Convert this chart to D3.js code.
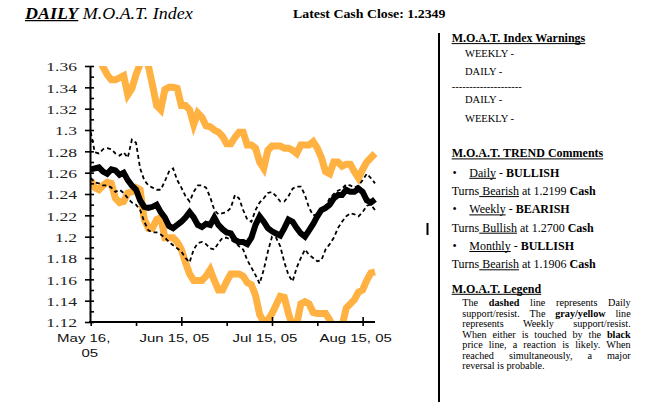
<!DOCTYPE html>
<html><head><meta charset="utf-8">
<script src="https://cdn.jsdelivr.net/npm/d3@7"></script>
<style>body{margin:0;background:#fff}svg{display:block}</style>
</head><body>
<script>
// ---- data (one value per trading day, May 16 2005 .. late Aug 2005) ----
const priceLine = [1.263,1.264,1.265,1.261,1.259,1.263,1.262,1.258,1.260,1.253,1.248,1.244,1.234,1.228,1.227,1.228,1.230,1.223,1.218,1.210,
  1.208,1.211,1.214,1.218,1.223,1.218,1.211,1.209,1.212,1.211,1.218,1.211,1.207,1.204,1.203,1.197,1.195,1.195,1.193,1.199,
  1.211,1.219,1.214,1.208,1.205,1.203,1.201,1.208,1.216,1.214,1.208,1.203,1.200,1.206,1.212,1.219,1.225,1.227,1.230,1.236,
  1.239,1.239,1.244,1.242,1.242,1.245,1.242,1.234,1.232,1.235];
const weeklyResist = [1.375,1.370,1.366,1.359,1.352,1.347,1.347,1.349,1.351,1.333,1.339,1.352,1.362,1.370,1.360,1.342,1.323,1.319,1.338,1.340,
  1.340,1.339,1.323,1.323,1.319,1.305,1.316,1.312,1.304,1.303,1.300,1.298,1.294,1.287,1.287,1.293,1.298,1.298,1.286,1.286,
  1.283,1.270,1.264,1.281,1.285,1.285,1.285,1.283,1.283,1.281,1.278,1.286,1.286,1.286,1.289,1.283,1.274,1.261,1.259,1.270,
  1.270,1.266,1.268,1.268,1.261,1.255,1.263,1.270,1.274,1.278];
const weeklySupport = [1.253,1.246,1.244,1.248,1.251,1.250,1.236,1.232,1.233,1.241,1.242,1.246,1.244,1.216,1.208,1.208,1.216,1.218,1.199,1.199,
  1.199,1.195,1.188,1.176,1.165,1.159,1.159,1.159,1.163,1.169,1.159,1.150,1.150,1.158,1.165,1.165,1.165,1.163,1.157,1.155,
  1.145,1.127,1.120,1.122,1.128,1.136,1.144,1.143,1.128,1.116,1.118,1.137,1.139,1.137,1.129,1.128,1.128,1.128,1.122,1.113,
  1.113,1.116,1.133,1.137,1.141,1.148,1.150,1.159,1.166,1.167];
const dailyResist = [1.298,1.279,1.278,1.282,1.283,1.282,1.278,1.276,1.279,1.274,1.291,1.288,1.264,1.253,1.248,1.246,1.244,1.244,1.252,1.261,
  1.264,1.253,1.246,1.238,1.233,1.242,1.248,1.248,1.246,1.237,1.225,1.221,1.222,1.223,1.227,1.239,1.236,1.225,1.216,1.214,
  1.225,1.232,1.236,1.241,1.242,1.238,1.233,1.233,1.238,1.245,1.247,1.247,1.239,1.227,1.220,1.221,1.225,1.228,1.236,1.240,
  1.243,1.245,1.249,1.248,1.246,1.248,1.253,1.259,1.255,1.250];
const dailySupport = [1.255,1.251,1.250,1.248,1.248,1.246,1.242,1.244,1.241,1.236,1.232,1.230,1.225,1.214,1.206,1.204,1.204,1.202,1.199,1.195,
  1.192,1.189,1.186,1.180,1.176,1.188,1.194,1.195,1.193,1.189,1.188,1.194,1.199,1.199,1.197,1.195,1.191,1.188,1.178,1.171,
  1.164,1.156,1.169,1.186,1.200,1.199,1.191,1.176,1.164,1.158,1.171,1.180,1.188,1.183,1.180,1.177,1.178,1.188,1.193,1.199,
  1.208,1.214,1.219,1.222,1.221,1.219,1.223,1.229,1.230,1.225];
const yLabels = [1.12,1.14,1.16,1.18,1.2,1.22,1.24,1.26,1.28,1.3,1.32,1.34,1.36];
const yMinor = [1.13,1.15,1.17,1.19,1.21,1.23,1.25,1.27,1.29,1.31,1.33,1.35];
const xLabels = ["May 16, 05","Jun 15, 05","Jul 15, 05","Aug 15, 05"];
const xLabelIdx = [0,22,44,66];
const xMinorIdx = [11,33,55];

const W=653,H=402;
const svg=d3.select("body").append("svg").attr("width",W).attr("height",H);
svg.append("rect").attr("width",W).attr("height",H).attr("fill","#fff");
const SERIF="'Liberation Serif','Times New Roman',serif";
const SANS="'Liberation Sans',Arial,sans-serif";
const ORANGE="#FFB142";

const x=d3.scaleLinear().domain([0,priceLine.length-1]).range([90.7,375]);
const y=d3.scaleLinear().domain([1.12,1.36]).range([322,66]);

// clip
svg.append("defs").append("clipPath").attr("id","plot").append("rect")
  .attr("x",90).attr("y",66).attr("width",290).attr("height",255.5);
const plot=svg.append("g").attr("clip-path","url(#plot)");
const line=d3.line().x((d,i)=>x(i)).y(d=>y(d));
[weeklyResist,weeklySupport].forEach(s=>plot.append("path").attr("d",line(s))
  .attr("fill","none").attr("stroke",ORANGE).attr("stroke-width",7).attr("stroke-linejoin","miter"));
[dailyResist,dailySupport].forEach(s=>plot.append("path").attr("d",line(s))
  .attr("fill","none").attr("stroke","#000").attr("stroke-width",1.8).attr("stroke-dasharray","4,3"));
plot.append("path").attr("d",line(priceLine)).attr("fill","none").attr("stroke","#000").attr("stroke-width",6);

// y axis
const yA=svg.append("g").attr("transform","translate(90,0)")
  .call(d3.axisLeft(y).tickValues(yLabels).tickSize(5).tickSizeOuter(0).tickFormat(d3.format("")));
yA.attr("font-family",SERIF);
yA.select(".domain").attr("stroke-width",2);
yA.selectAll(".tick line").attr("stroke-width",1.6);
yA.selectAll(".tick text").attr("x",0).attr("dy",null).attr("y",4.7)
  .attr("transform","translate(-13,0) scale(1.35,1)")
  .attr("font-family",SERIF).attr("font-size",13).attr("fill","#222");
svg.append("g").attr("transform","translate(90,0)")
  .call(d3.axisRight(y).tickValues(yLabels.concat(yMinor)).tickSize(4).tickSizeOuter(0).tickFormat(""))
  .call(g=>{g.select(".domain").remove();g.selectAll(".tick line").attr("stroke-width",1.6);});

// x axis
const xA=svg.append("g").attr("transform","translate(0,322)")
  .call(d3.axisBottom(x).tickValues(xLabelIdx.concat(xMinorIdx)).tickSize(4).tickSizeOuter(0).tickFormat(""));
xA.select(".domain").attr("stroke-width",2).attr("d","M89,0H375");
xA.selectAll(".tick line").attr("stroke-width",1.6);
svg.append("g").attr("transform","translate(0,322)")
  .call(d3.axisTop(x).tickValues(xLabelIdx.slice(1)).tickSize(5).tickSizeOuter(0).tickFormat(""))
  .call(g=>{g.select(".domain").remove();g.selectAll(".tick line").attr("stroke-width",1.6);});
xLabels.forEach((lab,k)=>{
  const cx=x(xLabelIdx[k])-7;
  const lines = k===0 ? ["May 16,","05"] : [lab];
  lines.forEach((t,j)=>{
    svg.append("text").attr("transform",`translate(${cx + (k===0&&j===1?6:0)},${341.5+j*15}) scale(1.36,1)`)
      .attr("text-anchor","middle").attr("font-family",SANS).attr("font-size",11).attr("fill","#111").text(t);
  });
});

// small marker
svg.append("rect").attr("x",426.5).attr("y",223).attr("width",2).attr("height",12).attr("fill","#000");
// divider
svg.append("rect").attr("x",438).attr("y",33).attr("width",2).attr("height",H-33).attr("fill","#000");

// helpers
function segs(x0,yb,parts,size,sx){
  sx=sx||1;
  const g=svg.append("g").attr("transform",`translate(${x0},${yb}) scale(${sx},1)`);
  let cx=0;
  parts.forEach(p=>{
    const t=g.append("text").attr("x",cx).attr("y",0).attr("xml:space","preserve")
      .attr("font-family",SERIF).attr("font-size",size).attr("fill","#000")
      .attr("font-weight",p.b?"bold":"normal").attr("font-style",p.i?"italic":"normal").text(p.t);
    const w=t.node().getComputedTextLength();
    if(p.u) g.append("line").attr("x1",cx).attr("x2",cx+w).attr("y1",1.6).attr("y2",1.6)
      .attr("stroke","#000").attr("stroke-width",p.uw||1);
    cx+=w;
  });
}
// title
segs(25,19,[{t:"DAILY",b:1,i:1,u:1,uw:1.4},{t:" M.O.A.T. Index",i:1}],17,1.057);
segs(293,18,[{t:"Latest Cash Close: 1.2349",b:1}],12.5,1.11);

// right panel
segs(451.7,42,[{t:"M.O.A.T. Index Warnings",b:1,u:1}],12);
segs(465,56.7,[{t:"WEEKLY -"}],10.5);
segs(465,75,[{t:"DAILY -"}],10.5);
segs(451.7,90,[{t:"--------------------"}],10.5);
segs(465,103,[{t:"DAILY -"}],10.5);
segs(465,121.5,[{t:"WEEKLY -"}],10.5);

segs(451.7,157.3,[{t:"M.O.A.T. TREND Comments",b:1,u:1}],12);
const trend=[["Daily","BULLISH","Bearish","1.2199"],["Weekly","BEARISH","Bullish","1.2700"],["Monthly","BULLISH","Bearish","1.1906"]];
trend.forEach((r,k)=>{
  const yb=176.7+k*36.6;
  segs(452.5,yb,[{t:"•"}],12);
  segs(469.3,yb,[{t:r[0],u:1},{t:" - "},{t:r[1],b:1}],12);
  segs(451.7,yb+18.3,[{t:"Turns"},{t:" "+r[2],u:1},{t:" at "+r[3]+" "},{t:"Cash",b:1}],12);
});

segs(451.7,292.7,[{t:"M.O.A.T. Legend",b:1,u:1}],12);
const legendLines=[
  [["The"],["dashed",1],["line"],["represents"],["Daily"]],
  [["support/resist."],["The"],["gray/yellow",1],["line"]],
  [["represents"],["Weekly"],["support/resist."]],
  [["When"],["either"],["is"],["touched"],["by"],["the"],["black",1]],
  [["price"],["line,"],["a"],["reaction"],["is"],["likely."],["When"]],
  [["reached"],["simultaneously,"],["a"],["major"]],
  [["reversal"],["is"],["probable."]]
];
const PX0=462.3,PX1=630.7,FS=10.2;
legendLines.forEach((ws,li)=>{
  const yb=306+li*10.5;
  const nodes=ws.map(w=>svg.append("text").attr("y",yb).attr("font-family",SERIF).attr("font-size",FS)
    .attr("fill","#000").attr("font-weight",w[1]?"bold":"normal").text(w[0]));
  const widths=nodes.map(n=>n.node().getComputedTextLength());
  const sum=d3.sum(widths);
  const last=li===legendLines.length-1;
  const gap=last?FS*0.25:(PX1-PX0-sum)/(ws.length-1);
  let cx=PX0;
  nodes.forEach((n,i)=>{n.attr("x",cx);cx+=widths[i]+gap;});
});
</script>
</body></html>
